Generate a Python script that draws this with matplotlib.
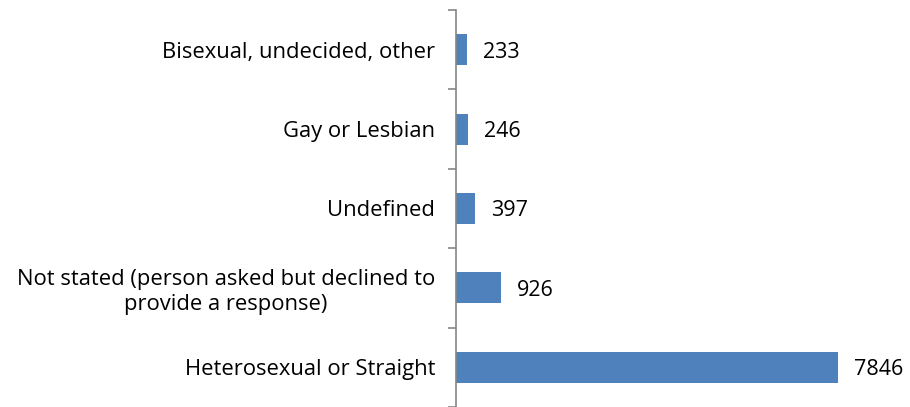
import matplotlib
matplotlib.use("Agg")
import matplotlib.pyplot as plt
import numpy as np

categories = [
    "Heterosexual or Straight",
    "Not stated (person asked but declined to\nprovide a response)",
    "Undefined",
    "Gay or Lesbian",
    "Bisexual, undecided, other",
]
counts = [7846, 926, 397, 246, 233]

plt.rcParams['font.family'] = ['Open Sans', 'DejaVu Sans']

fig = plt.figure(figsize=(9.1, 4.07), dpi=100)
ax = fig.add_axes([456 / 910, 0.0, 444 / 910, 397 / 407])

y = np.arange(len(categories))
ax.barh(y, counts, height=0.39, color='#4F81BD')

for yi, v in zip(y, counts):
    ax.text(v + 330, yi, str(v), va='center_baseline', ha='left', fontsize=15.5)

ax.set_xlim(0, 444 / (382 / 7846))
ax.set_ylim(-0.5, len(categories) - 0.5)
ax.set_yticks(y)
ax.set_yticklabels(categories, fontsize=15.8, multialignment='center')
ax.set_yticks(np.arange(-0.5, len(categories), 1), minor=True)
ax.tick_params(axis='y', which='major', length=0, pad=15)
ax.tick_params(axis='y', which='minor', length=5.8, color='#868686', width=1.2)
ax.set_xticks([])

for s in ['top', 'right', 'bottom']:
    ax.spines[s].set_visible(False)
ax.spines['left'].set_color('#868686')
ax.spines['left'].set_linewidth(1.2)

fig.savefig("out.png", dpi=100)
